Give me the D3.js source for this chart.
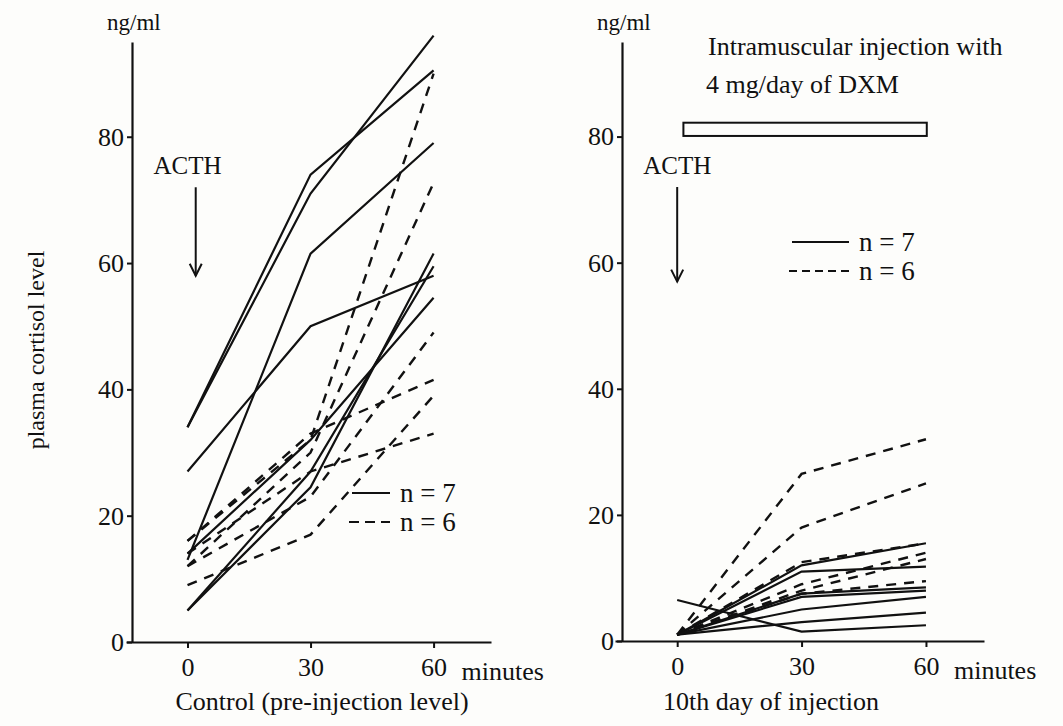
<!DOCTYPE html>
<html>
<head>
<meta charset="utf-8">
<script src="https://cdn.jsdelivr.net/npm/d3@7"></script>
<style>
  body { margin: 0; background: #fdfdfb; }
  svg { display: block; }
  text { font-family: "Liberation Serif", "DejaVu Serif", serif; fill: #111; }
</style>
</head>
<body>
<div id="chart"></div>
<script>
//          Chart data
var times = [0, 30, 60];
var yTicks = [0, 20, 40, 60, 80];
var xTicks = [0, 30, 60];

// control (pre-injection level)
var controlSolid = [
    [34, 74, 90.5],
    [34, 71, 96],
    [27, 50, 58],
    [13, 61.5, 79],
    [5, 24.5, 61.5],
    [5, 27, 59.5],
    [14, 32, 54.5]
];
var controlDashed = [
    [16, 32, 90],
    [12, 30, 72.7],
    [12, 23, 49],
    [16, 33, 41.5],
    [9, 17, 39],
    [14, 27, 33]
];

// 10th day of injection
var dxmSolid = [
    [6.5, 1.5, 2.5],
    [1, 3, 4.5],
    [1, 5, 7],
    [1, 7, 8],
    [1, 7.5, 8.5],
    [1, 11, 11.8],
    [1, 12, 15.5]
];
var dxmDashed = [
    [1, 26.5, 32],
    [1, 18, 25],
    [1, 12.5, 15.5],
    [1, 9, 14],
    [1, 8, 13],
    [1, 7.5, 9.5]
];

var W = 1063, H = 726;
var fontSize = "26px";
var svg = d3.select("#chart").append("svg")
    .attr("width", W)
    .attr("height", H);

function drawPanel(opt) {
    var x = d3.scaleLinear().domain([-15, 74]).range([opt.x0, opt.x1]);
    var y = d3.scaleLinear().domain([0, 95]).range([opt.yBottom, 42]);
    var g = svg.append("g");

    //      Axes
    var yAxis = d3.axisLeft(y).tickValues(yTicks).tickSize(5).tickSizeOuter(0).tickPadding(3);
    var ya = g.append("g").attr("transform", "translate(" + opt.yAxisX + ",0)").call(yAxis);
    ya.selectAll("text").style("font-size", fontSize).style("font-family", "Liberation Serif");

    var xAxis = d3.axisBottom(x).tickValues(xTicks).tickSize(6).tickSizeOuter(0).tickPadding(10);
    var xa = g.append("g").attr("transform", "translate(0," + opt.yBottom + ")").call(xAxis);
    xa.selectAll("text").style("font-size", fontSize).style("font-family", "Liberation Serif");
    g.selectAll(".domain").attr("stroke", "#111").attr("stroke-width", 2.2);
    g.selectAll(".tick line").attr("stroke", "#111").attr("stroke-width", 2);

    g.append("text").text("minutes")
        .attr("x", x(60) + 28).attr("y", opt.yBottom + 38)
        .style("font-size", fontSize);
    g.append("text").text("ng/ml")
        .attr("x", opt.yAxisX - 25).attr("y", 30)
        .style("font-size", "23px");
    g.append("text").text(opt.title)
        .attr("x", opt.titleX).attr("y", 710)
        .attr("text-anchor", "middle")
        .style("font-size", fontSize);

    //      ACTH arrow
    var ax = x(opt.arrowT);
    g.append("text").text("ACTH")
        .attr("x", x(0)).attr("y", 174)
        .attr("text-anchor", "middle")
        .style("font-size", "25px");
    g.append("line")
        .attr("x1", ax).attr("x2", ax)
        .attr("y1", y(72)).attr("y2", y(opt.arrowEnd))
        .attr("stroke", "#111").attr("stroke-width", 2);
    g.append("path")
        .attr("d", "M" + (ax - 6) + "," + (y(opt.arrowEnd) - 12) + "L" + ax + "," + y(opt.arrowEnd) + "L" + (ax + 6) + "," + (y(opt.arrowEnd) - 12))
        .attr("fill", "none").attr("stroke", "#111").attr("stroke-width", 2);

    //      Lines
    var line = d3.line()
        .x(function(d, i) { return x(times[i]); })
        .y(function(d) { return y(d); });

    g.selectAll("path.solid").data(opt.solid).enter().append("path")
        .attr("class", "solid")
        .attr("d", line)
        .attr("fill", "none")
        .attr("stroke", "#111")
        .attr("stroke-width", 2.2);

    g.selectAll("path.dashed").data(opt.dashed).enter().append("path")
        .attr("class", "dashed")
        .attr("d", line)
        .attr("fill", "none")
        .attr("stroke", "#111")
        .attr("stroke-width", 2.4)
        .attr("stroke-dasharray", "10,8");

    //      Legend
    var lx = opt.legX, ly = opt.legY;
    g.append("line").attr("x1", lx).attr("x2", lx + opt.legW)
        .attr("y1", ly).attr("y2", ly)
        .attr("stroke", "#111").attr("stroke-width", 2);
    g.append("line").attr("x1", lx - 3).attr("x2", lx + opt.legW)
        .attr("y1", ly + 29).attr("y2", ly + 29)
        .attr("stroke", "#111").attr("stroke-width", 2)
        .attr("stroke-dasharray", opt.legDash);
    g.append("text").text("n = 7")
        .attr("x", lx + opt.legW + 10).attr("y", ly + 9)
        .style("font-size", "27px");
    g.append("text").text("n = 6")
        .attr("x", lx + opt.legW + 10).attr("y", ly + 38)
        .style("font-size", "27px");

    return {x: x, y: y, g: g};
}

var left = drawPanel({
    x0: 126, x1: 491, yAxisX: 132, yBottom: 642,
    solid: controlSolid, dashed: controlDashed,
    title: "Control (pre-injection level)", titleX: 322,
    arrowT: 2, arrowEnd: 58,
    legX: 352, legY: 493, legW: 38, legDash: "10,6"
});

var right = drawPanel({
    x0: 615, x1: 984, yAxisX: 622, yBottom: 641,
    solid: dxmSolid, dashed: dxmDashed,
    title: "10th day of injection", titleX: 771,
    arrowT: 0, arrowEnd: 57,
    legX: 792, legY: 242, legW: 57, legDash: "8,5"
});

//      Injection period bar
right.g.append("rect")
    .attr("x", right.x(1.5))
    .attr("y", right.y(82.2))
    .attr("width", right.x(60.2) - right.x(1.5))
    .attr("height", right.y(80.1) - right.y(82.2))
    .attr("fill", "none")
    .attr("stroke", "#111")
    .attr("stroke-width", 2);

right.g.append("text").text("Intramuscular injection with")
    .attr("x", 708).attr("y", 55)
    .style("font-size", fontSize);
right.g.append("text").text("4 mg/day of DXM")
    .attr("x", 706).attr("y", 93)
    .style("font-size", fontSize);

//      y label
svg.append("text").text("plasma cortisol level")
    .attr("transform", "translate(44,350) rotate(-90)")
    .attr("text-anchor", "middle")
    .style("font-size", "24px");
</script>
</body>
</html>
